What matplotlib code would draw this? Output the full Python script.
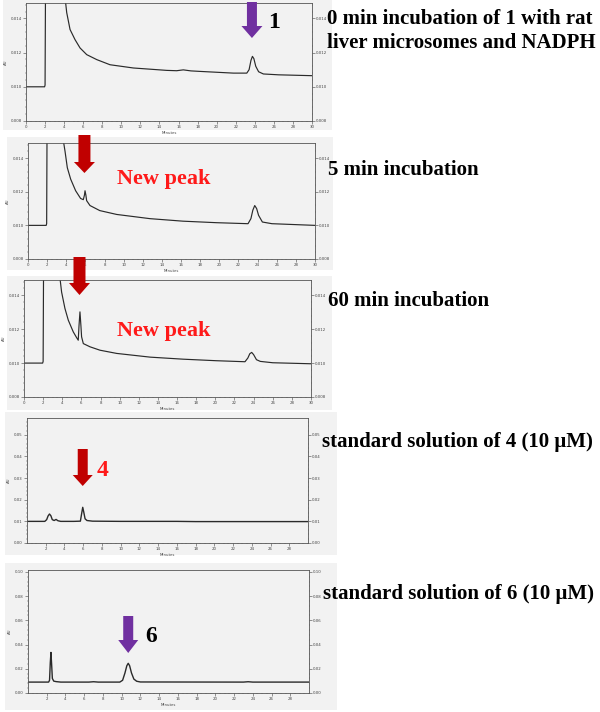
import matplotlib
matplotlib.use("Agg")
import matplotlib.pyplot as plt
from matplotlib.patches import Rectangle, Polygon
from matplotlib.ticker import MultipleLocator, AutoMinorLocator, FormatStrFormatter

# ---------------- data ----------------
t1 = [0, 1.95, 2.0, 2.08, 3.98, 4.1, 4.27, 4.62, 5.14, 5.67, 6.37, 7.42, 8.81, 11.26, 14.76,
      15.8, 16.5, 17.3, 18.26, 21.76, 23.16, 23.4, 23.6, 23.75, 23.9, 24.1, 24.4, 24.9, 26.5, 30]
a1 = [0.0100, 0.0100, 0.0101, 0.0200, 0.0200, 0.0152, 0.01434, 0.01335, 0.01276, 0.01227,
      0.01188, 0.01159, 0.01129, 0.0111, 0.01096, 0.01094, 0.01099, 0.01093, 0.0109, 0.0108,
      0.0108, 0.0110, 0.01155, 0.01178, 0.01165, 0.0112, 0.01088, 0.01075, 0.0107, 0.01065]

t2 = [0, 1.9, 1.95, 2.02, 3.55, 3.65, 3.87, 4.11, 4.46, 4.98, 5.5, 5.78, 5.9, 5.96, 6.05,
      6.13, 6.48, 7.5, 9.27, 12.75, 16.2, 19.7, 23.0, 23.3, 23.5, 23.7, 23.9, 24.1, 24.5, 25.5, 30]
a2 = [0.0100, 0.0100, 0.0101, 0.0200, 0.0200, 0.0152, 0.01441, 0.01343, 0.01275, 0.01206,
      0.0116, 0.01153, 0.0118, 0.01206, 0.0118, 0.01147, 0.01118, 0.01088, 0.01065, 0.0104,
      0.01025, 0.01016, 0.0101, 0.0104, 0.0109, 0.01118, 0.0110, 0.0106, 0.0102, 0.0101, 0.0100]

t3 = [0, 1.95, 2.0, 2.08, 3.6, 3.72, 3.93, 4.28, 4.63, 5.15, 5.5, 5.67, 5.75, 5.85, 5.95,
      6.02, 6.2, 6.9, 7.94, 9.69, 13.2, 16.65, 20.1, 23.1, 23.4, 23.6, 23.8, 24.0, 24.3, 24.7, 26, 30]
a3 = [0.0100, 0.0100, 0.0101, 0.0200, 0.0200, 0.0152, 0.01419, 0.01322, 0.01253, 0.01184,
      0.01150, 0.01135, 0.0122, 0.01302, 0.0122, 0.01155, 0.01115, 0.01096, 0.01076, 0.01057,
      0.01035, 0.01023, 0.01014, 0.01008, 0.0103, 0.01055, 0.01063, 0.0105, 0.0102, 0.0101,
      0.01002, 0.00996]

t4 = [0, 1.9, 2.1, 2.25, 2.4, 2.55, 2.7, 2.9, 3.1, 3.3, 3.6, 5.0, 5.7, 5.85, 5.95, 6.05,
      6.2, 6.4, 7.0, 10, 16, 18, 30]
a4 = [0.0100, 0.0100, 0.0108, 0.0125, 0.0134, 0.0126, 0.0108, 0.0104, 0.0109, 0.0103, 0.0100,
      0.0100, 0.0101, 0.0140, 0.0165, 0.0145, 0.0112, 0.0104, 0.0101, 0.0100, 0.0100, 0.0099, 0.0099]

t5 = [0, 2.2, 2.3, 2.38, 2.45, 2.52, 2.6, 2.75, 3.0, 3.5, 6.5, 7.0, 7.5, 9.8, 10.1, 10.35,
      10.55, 10.7, 10.85, 11.05, 11.3, 11.6, 12.0, 23.0, 23.5, 24.0, 30]
a5 = [0.009, 0.009, 0.0105, 0.025, 0.0335, 0.024, 0.012, 0.0098, 0.0094, 0.009, 0.009, 0.0093,
      0.009, 0.009, 0.0105, 0.0165, 0.0225, 0.0245, 0.0225, 0.0165, 0.0115, 0.0097, 0.0091,
      0.009, 0.0093, 0.009, 0.009]

labels = ["0 min incubation of 1 with rat\nliver microsomes and NADPH",
          "5 min incubation", "60 min incubation",
          "standard solution of 4 (10 \u03bcM)", "standard solution of 6 (10 \u03bcM)"]

# ---------------- layout ----------------
W, H = 600, 712
fig = plt.figure(figsize=(6, 7.12), dpi=100)
fig.patch.set_facecolor("white")

def fx(x):
    return x / W

def fy(y):
    return 1 - y / H

BG = "#f2f2f2"
boxes = [(3, 0, 332, 130), (7, 137, 333, 270), (7, 276, 332, 410),
         (5, 412, 337, 555), (5, 563, 337, 710)]
for (x0, y0, x1, y1) in boxes:
    fig.patches.append(Rectangle((fx(x0), fy(y1)), fx(x1 - x0), (y1 - y0) / H,
                                 transform=fig.transFigure, facecolor=BG,
                                 edgecolor="none", zorder=-10))

apos = [(26, 3, 312, 121), (28, 143, 315, 259), (24, 280, 311, 397),
        (27, 418, 308, 543), (28, 570, 309, 693)]
series = [(t1, a1), (t2, a2), (t3, a3), (t4, a4), (t5, a5)]
ylims = [(0.008, 0.0149), (0.008, 0.0149), (0.008, 0.0149), (0.0, 0.0578), (0.0, 0.1015)]

axes = []
for i, ((l, t, r, b), (tt, aa)) in enumerate(zip(apos, series)):
    ax = fig.add_axes([fx(l), fy(b), fx(r - l), (b - t) / H])
    ax.set_zorder(1)
    ax.set_facecolor(BG)
    ax.plot(tt, aa, color="#2a2a2a", lw=0.85 if i < 3 else 1.0, solid_joinstyle="round")
    ax.set_xlim(0, 30)
    ax.set_ylim(*ylims[i])
    if i < 3:
        ax.xaxis.set_major_locator(MultipleLocator(2))
        ax.yaxis.set_major_locator(MultipleLocator(0.002))
        ax.yaxis.set_major_formatter(FormatStrFormatter("%.3f"))
    else:
        ax.set_xticks(list(range(2, 30, 2)))
        ax.yaxis.set_major_locator(MultipleLocator(0.01 if i == 3 else 0.02))
        ax.yaxis.set_major_formatter(FormatStrFormatter("%.2f"))
    ax.xaxis.set_minor_locator(AutoMinorLocator(4))
    ax.yaxis.set_minor_locator(AutoMinorLocator(5))
    ax.tick_params(which="both", direction="out", labelsize=2.8, colors="#444444",
                   right=True, labelright=True, pad=1)
    ax.tick_params(which="major", length=2, width=0.4)
    ax.tick_params(which="minor", length=1, width=0.3)
    for s in ax.spines.values():
        s.set_color("#555555")
        s.set_linewidth(0.6)
    ax.set_xlabel("Minutes", fontsize=2.8, labelpad=1, color="#444444")
    ax.set_ylabel("AU", fontsize=2.8, labelpad=2, color="#444444")
    axes.append(ax)

# ---------------- text ----------------
serif = ["Liberation Serif", "DejaVu Serif"]
fig.text(fx(327), fy(31), labels[0], fontsize=15, fontweight="bold", family=serif,
         va="center", ha="left", linespacing=1.2, zorder=5)
fig.text(fx(328), fy(170), labels[1], fontsize=15, fontweight="bold", family=serif,
         va="center", ha="left", zorder=5)
fig.text(fx(328), fy(301), labels[2], fontsize=15, fontweight="bold", family=serif,
         va="center", ha="left", zorder=5)
fig.text(fx(322), fy(442), labels[3], fontsize=15, fontweight="bold", family=serif,
         va="center", ha="left", zorder=5)
fig.text(fx(323), fy(594), labels[4], fontsize=15, fontweight="bold", family=serif,
         va="center", ha="left", zorder=5)

RED_T = "#ff1a1a"
fig.text(fx(117), fy(179), "New peak", fontsize=16, fontweight="bold", family=serif,
         color=RED_T, va="center", ha="left", zorder=5)
fig.text(fx(117), fy(331), "New peak", fontsize=16, fontweight="bold", family=serif,
         color=RED_T, va="center", ha="left", zorder=5)

# ---------------- block arrows ----------------
PURPLE = "#7030a0"
DRED = "#c00000"

def block_arrow(ax, t_peak, y_top, y_tip, color, shaft_w=10, head_w=21, head_l=12):
    xpix = ax.transData.transform((t_peak, 0))[0]
    pts = [(xpix - shaft_w / 2, y_top), (xpix + shaft_w / 2, y_top),
           (xpix + shaft_w / 2, y_tip - head_l), (xpix + head_w / 2, y_tip - head_l),
           (xpix, y_tip), (xpix - head_w / 2, y_tip - head_l),
           (xpix - shaft_w / 2, y_tip - head_l)]
    poly = Polygon([(fx(x), fy(y)) for x, y in pts], closed=True, transform=fig.transFigure,
                   facecolor=color, edgecolor="none", zorder=10)
    fig.patches.append(poly)
    return xpix

xa = block_arrow(axes[0], 23.7, 2, 38, PURPLE)
fig.text(fx(xa + 16), fy(22), "1", fontsize=17, fontweight="bold", family=serif,
         va="center", ha="left", zorder=5)
block_arrow(axes[1], 5.9, 135, 173, DRED, shaft_w=12, head_w=21, head_l=11)
block_arrow(axes[2], 5.8, 257, 295, DRED, shaft_w=12, head_w=21, head_l=12)
xa = block_arrow(axes[3], 5.95, 449, 486, DRED, shaft_w=10, head_w=20, head_l=11)
fig.text(fx(xa + 14), fy(470), "4", fontsize=17, fontweight="bold", family=serif,
         color=RED_T, va="center", ha="left", zorder=5)
xa = block_arrow(axes[4], 10.7, 616, 653, PURPLE, shaft_w=10, head_w=20, head_l=13)
fig.text(fx(xa + 17), fy(637), "6", fontsize=17, fontweight="bold", family=serif,
         va="center", ha="left", zorder=5)

fig.savefig("out.png", dpi=100, facecolor="white")
